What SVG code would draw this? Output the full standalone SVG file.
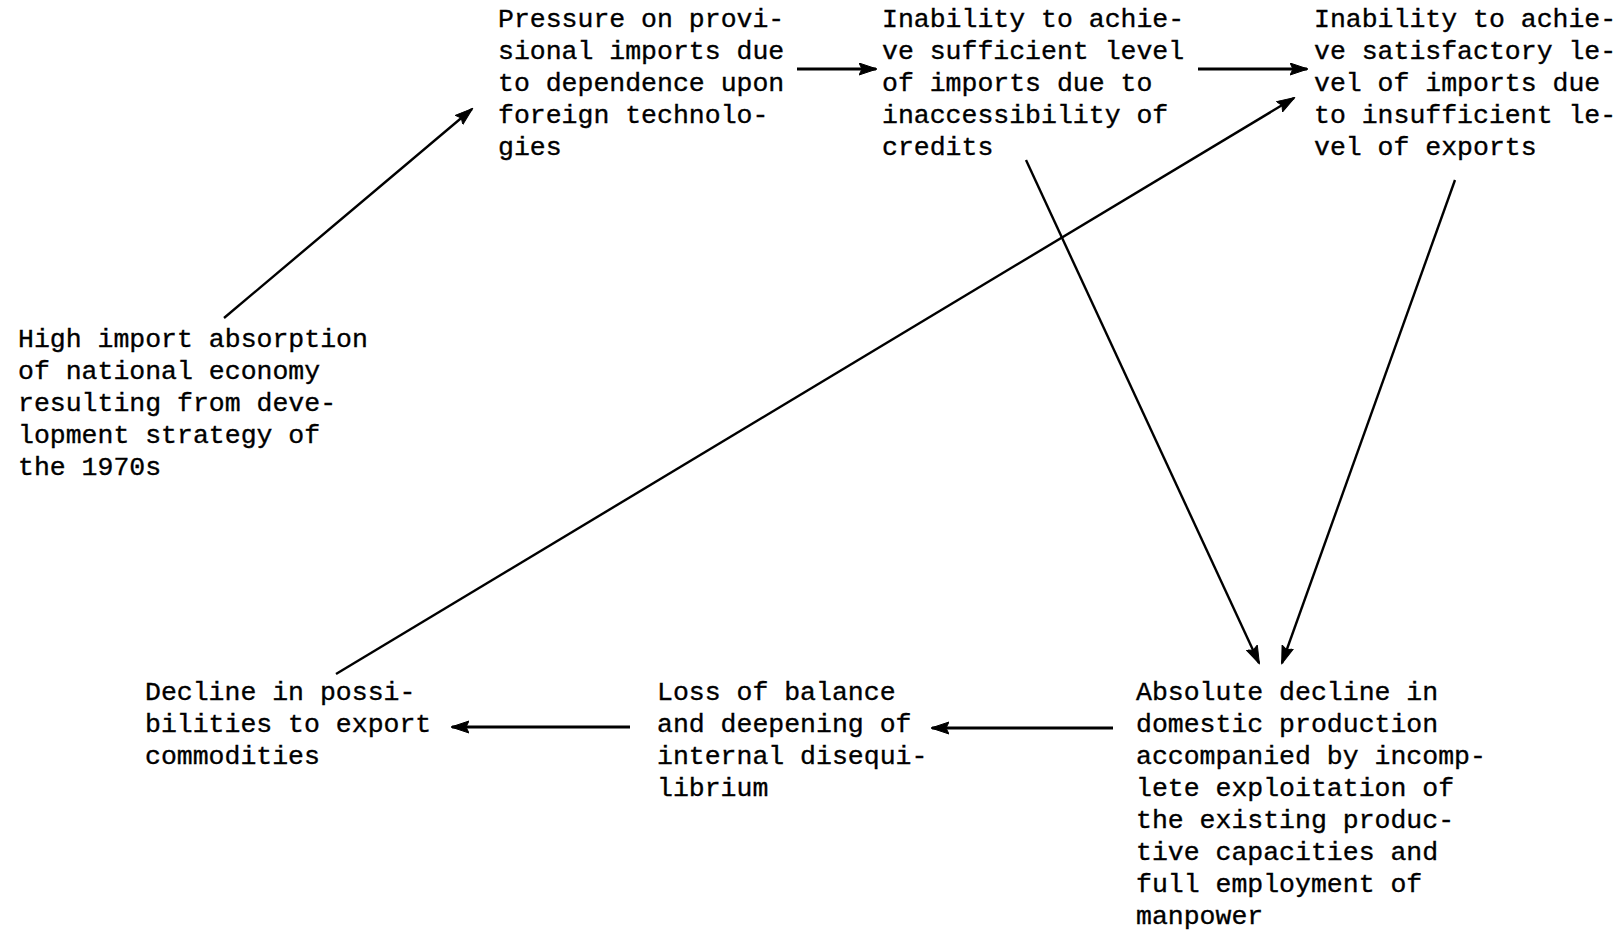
<svg xmlns="http://www.w3.org/2000/svg" width="1623" height="933" viewBox="0 0 1623 933">
<style>
text{font-family:"Liberation Mono","DejaVu Sans Mono",monospace;font-size:26.5px;fill:#000;stroke:#000;stroke-width:0.35}
.c line{stroke:#000;stroke-width:2.4;fill:none;marker-end:url(#ah)}
.c line.h{stroke-width:3}
</style>
<defs>
<marker id="ah" markerUnits="userSpaceOnUse" markerWidth="20" markerHeight="15" refX="17" refY="6.5" orient="auto">
<path d="M0,0.5 L18,6.5 L0,12.5 L3,6.5 z" fill="#000" stroke="#000" stroke-width="1" stroke-linejoin="round"/>
</marker>
</defs>
<rect width="1623" height="933" fill="#fff"/>
<g class="c" id="connectors">
<line x1="224" y1="318" x2="472" y2="109"/>
<line class="h" x1="797" y1="69" x2="876" y2="69"/>
<line class="h" x1="1198" y1="69" x2="1307" y2="69"/>
<line x1="1026" y1="160" x2="1259" y2="663"/>
<line x1="1455" y1="180" x2="1282" y2="663"/>
<line x1="336" y1="674" x2="1294" y2="98"/>
<line class="h" x1="1113" y1="728" x2="932" y2="728"/>
<line class="h" x1="630" y1="727" x2="452" y2="727"/>
</g>
<g id="nodeA"><text x="18" y="347">High import absorption</text><text x="18" y="379">of national economy</text><text x="18" y="411">resulting from deve-</text><text x="18" y="443">lopment strategy of</text><text x="18" y="475">the 1970s</text></g>
<g id="nodeB"><text x="498" y="27">Pressure on provi-</text><text x="498" y="59">sional imports due</text><text x="498" y="91">to dependence upon</text><text x="498" y="123">foreign technolo-</text><text x="498" y="155">gies</text></g>
<g id="nodeC"><text x="882" y="27">Inability to achie-</text><text x="882" y="59">ve sufficient level</text><text x="882" y="91">of imports due to</text><text x="882" y="123">inaccessibility of</text><text x="882" y="155">credits</text></g>
<g id="nodeD"><text x="1314" y="27">Inability to achie-</text><text x="1314" y="59">ve satisfactory le-</text><text x="1314" y="91">vel of imports due</text><text x="1314" y="123">to insufficient le-</text><text x="1314" y="155">vel of exports</text></g>
<g id="nodeE"><text x="145" y="700">Decline in possi-</text><text x="145" y="732">bilities to export</text><text x="145" y="764">commodities</text></g>
<g id="nodeF"><text x="657" y="700">Loss of balance</text><text x="657" y="732">and deepening of</text><text x="657" y="764">internal disequi-</text><text x="657" y="796">librium</text></g>
<g id="nodeG"><text x="1136" y="700">Absolute decline in</text><text x="1136" y="732">domestic production</text><text x="1136" y="764">accompanied by incomp-</text><text x="1136" y="796">lete exploitation of</text><text x="1136" y="828">the existing produc-</text><text x="1136" y="860">tive capacities and</text><text x="1136" y="892">full employment of</text><text x="1136" y="924">manpower</text></g>
</svg>
